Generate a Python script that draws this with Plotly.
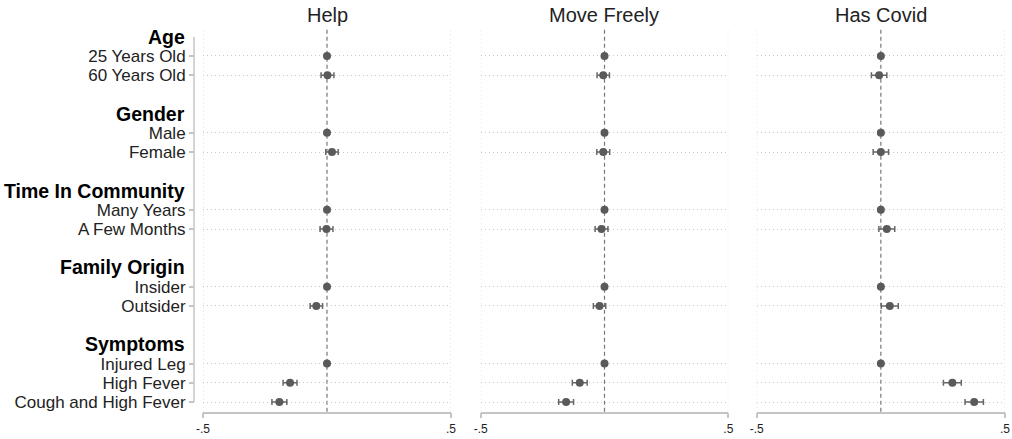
import plotly.graph_objects as go

# ---------------- data ----------------
groups = ["Age", "Gender", "Time In Community", "Family Origin", "Symptoms"]
group_items = [
    ["25 Years Old", "60 Years Old"],
    ["Male", "Female"],
    ["Many Years", "A Few Months"],
    ["Insider", "Outsider"],
    ["Injured Leg", "High Fever", "Cough and High Fever"],
]
panels = ["Help", "Move Freely", "Has Covid"]

help_est = [0.0, 0.002, 0.0, 0.020, 0.0, -0.002, 0.0, -0.043, 0.0, -0.149, -0.192]
help_ci = [0.0, 0.026, 0.0, 0.025, 0.0, 0.026, 0.0, 0.025, 0.0, 0.028, 0.030]
move_est = [0.0, -0.005, 0.0, -0.005, 0.0, -0.012, 0.0, -0.020, 0.0, -0.100, -0.155]
move_ci = [0.0, 0.025, 0.0, 0.026, 0.0, 0.026, 0.0, 0.025, 0.0, 0.030, 0.030]
covid_est = [0.0, -0.007, 0.0, 0.0, 0.0, 0.024, 0.0, 0.036, 0.0, 0.288, 0.376]
covid_ci = [0.0, 0.031, 0.0, 0.031, 0.0, 0.032, 0.0, 0.034, 0.0, 0.036, 0.037]

x_tickvals = [-0.5, 0.5]
x_ticktext = ["-.5", ".5"]

estimates = [help_est, move_est, covid_est]
cis = [help_ci, move_ci, covid_ci]

# ---------------- layout of rows ----------------
W, H = 1012, 439
header_pos, item_pos, item_labels = [], [], []
pos = 0
for g, items in zip(groups, group_items):
    header_pos.append(pos)
    pos += 1
    for it in items:
        item_pos.append(pos)
        item_labels.append(it)
        pos += 1
    pos += 1  # blank gap

FONT = "Arial, Liberation Sans, sans-serif"
TXT = "#222222"
GRID = "#c8c8c8"
AXL = "#c4c4c4"
PT = "#5a5a5a"

x_domains = [[203 / W, 451 / W], [480.7 / W, 728.3 / W], [756.7 / W, 1005 / W]]
y_dom = [1 - 411.7 / H, 1 - 29 / H]

fig = go.Figure()
for i, (est, ci) in enumerate(zip(estimates, cis)):
    xa = "x" if i == 0 else f"x{i+1}"
    fig.add_trace(go.Scatter(
        x=est, y=item_pos, xaxis=xa, yaxis="y", mode="markers",
        marker=dict(color=PT, size=8),
        error_x=dict(type="data", array=ci, color="#666666", thickness=1.5, width=3),
        showlegend=False, hoverinfo="skip",
    ))

layout = dict(
    width=W, height=H, autosize=False,
    margin=dict(l=0, r=0, t=0, b=0, pad=0),
    paper_bgcolor="white", plot_bgcolor="white",
    font=dict(family=FONT, color=TXT),
    yaxis=dict(
        domain=y_dom, range=[19.5, -0.4], anchor="free", position=194 / W,
        tickvals=item_pos, ticktext=item_labels, automargin=False,
        tickfont=dict(size=17, color=TXT),
        ticks="outside", ticklen=5, tickcolor=AXL, tickwidth=1.5,
        showgrid=True, gridcolor=GRID, griddash="1px,3px", gridwidth=1,
        showline=False, zeroline=False,
    ),
)
for i in range(3):
    key = "xaxis" if i == 0 else f"xaxis{i+1}"
    layout[key] = dict(
        domain=x_domains[i], range=[-0.5, 0.5], anchor="y", automargin=False,
        tickvals=x_tickvals, ticktext=x_ticktext,
        tickfont=dict(size=12, color=TXT),
        ticks="outside", ticklen=5, tickcolor=AXL, tickwidth=1.5,
        showline=True, linecolor=AXL, linewidth=1.5,
        showgrid=True, gridcolor=GRID, griddash="1px,3px", gridwidth=1,
        zeroline=False,
    )
fig.update_layout(**layout)

shapes = []
annotations = []
for i in range(3):
    xr = "x" if i == 0 else f"x{i+1}"
    for xv in x_tickvals:
        shapes.append(dict(type="line", xref=xr, yref="y domain", x0=xv, x1=xv, y0=0, y1=1,
                           line=dict(color=GRID, width=1, dash="1px,3px"), layer="below"))
    shapes.append(dict(type="line", xref=xr, yref="y domain", x0=0, x1=0, y0=0, y1=1,
                       line=dict(color="#777777", width=1.2, dash="4px,3px"), layer="below"))
    annotations.append(dict(text=panels[i], xref="paper", yref="paper",
                            x=(x_domains[i][0] + x_domains[i][1]) / 2, y=1 - 15 / H,
                            xanchor="center", yanchor="middle", showarrow=False,
                            font=dict(size=20, color=TXT, family=FONT)))
# detached y-axis line
shapes.append(dict(type="line", xref="paper", yref="y", x0=194 / W, x1=194 / W,
                   y0=header_pos[0], y1=item_pos[-1], line=dict(color=AXL, width=1.5)))
for g, p in zip(groups, header_pos):
    annotations.append(dict(text=f"<b>{g}</b>", xref="paper", yref="y", x=187 / W, y=p,
                            xanchor="right", yanchor="middle", showarrow=False,
                            font=dict(size=19.5, color="#000000", family=FONT)))
fig.update_layout(shapes=shapes, annotations=annotations)

fig.write_html(
    "out.html",
    config={"displayModeBar": False, "responsive": False},
    post_script="document.body.style.margin='0';document.body.style.overflow='hidden';",
)
